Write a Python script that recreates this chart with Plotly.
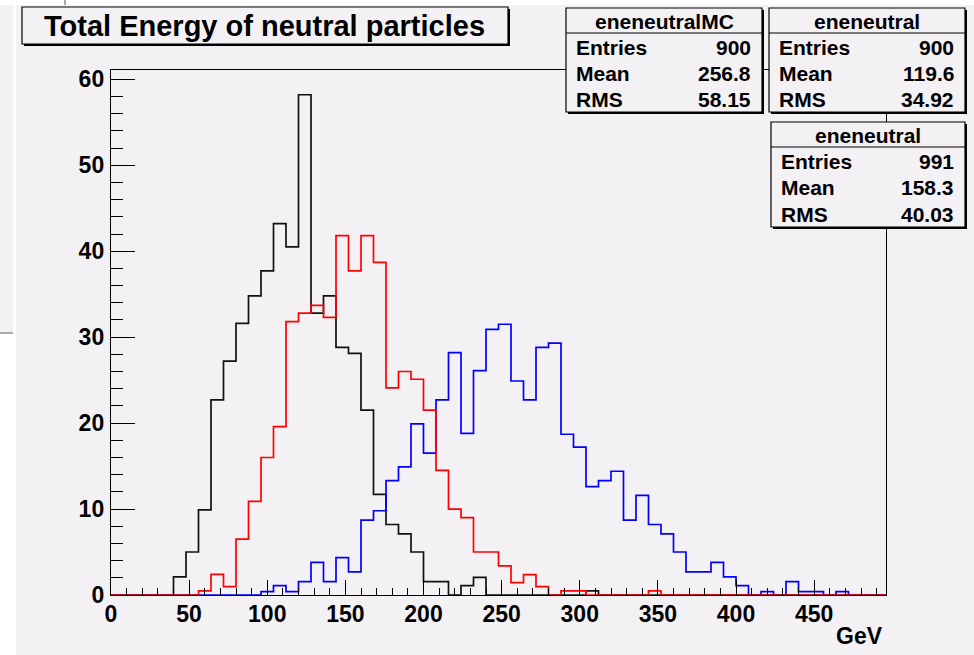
import plotly.graph_objects as go

# ---------------- data ----------------
BIN_WIDTH = 8
NBINS = 62  # 0 .. 496 GeV

# black: "eneneutral" (900 entries)
black_vals = [0, 0, 0, 0, 0, 2.1, 5.0, 9.9, 22.7, 27.2,
              31.6, 34.8, 37.7, 43.2, 40.5, 58.2, 32.8, 34.8, 28.8, 28.1,
              21.5, 11.7, 8.2, 7.1, 5.0, 1.55, 1.55, 0, 1.08, 2.06,
              0, 0, 0, 0, 0, 0, 0, 0, 0.47, 0,
              0, 0, 0, 0, 0, 0, 0, 0, 0, 0,
              0, 0, 0, 0, 0, 0, 0, 0, 0, 0,
              0, 0]

# red: "eneneutral" (991 entries)
red_vals = [0, 0, 0, 0, 0, 0, 0, 0.47, 2.4, 0.97,
            6.5, 10.9, 16.0, 19.6, 31.8, 32.8, 33.7, 32.3, 41.8, 37.7,
            41.8, 38.7, 24.1, 26.0, 25.1, 21.5, 14.5, 10.0, 9.0, 5.0,
            5.0, 3.4, 1.43, 2.36, 0.97, 0, 0.47, 0.47, 0, 0,
            0, 0, 0, 0.47, 0, 0, 0, 0, 0, 0,
            0, 0, 0, 0, 0, 0, 0, 0, 0, 0,
            0, 0]

# blue: "eneneutralMC" (900 entries)
blue_vals = [0, 0, 0, 0, 0, 0, 0, 0, 0, 0,
             0, 0, 0.39, 1.08, 0.39, 1.55, 3.8, 1.55, 4.34, 2.7,
             8.7, 9.8, 13.3, 14.9, 19.9, 16.5, 22.7, 28.2, 18.8, 26.1,
             30.9, 31.5, 24.9, 22.7, 28.8, 29.3, 18.7, 17.2, 12.6, 13.3,
             14.4, 8.7, 11.6, 8.2, 7.1, 5.0, 2.7, 2.7, 3.8, 2.1,
             1.08, 0, 0.39, 0, 1.55, 0.39, 0.39, 0, 0.39, 0,
             0, 0]

x_tickvals = [0, 50, 100, 150, 200, 250, 300, 350, 400, 450]
y_tickvals = [0, 10, 20, 30, 40, 50, 60]

title_text = "Total Energy of neutral particles"
x_title = "GeV"

stat_boxes = [
    {"name": "eneneutralMC", "entries": "900", "mean": "256.8", "rms": "58.15"},
    {"name": "eneneutral", "entries": "900", "mean": "119.6", "rms": "34.92"},
    {"name": "eneneutral", "entries": "991", "mean": "158.3", "rms": "40.03"},
]

# ---------------- layout geometry ----------------
WIDTH, HEIGHT = 974, 655
L, R, T, B = 111, 886, 70, 595
PW, PH = R - L, B - T
CANVAS = "#f4f1f4"
FONT = "Liberation Sans, Arial, Helvetica, sans-serif"


def X(px):
    return (px - L) / PW


def Y(py):
    return (B - py) / PH


edges = [i * BIN_WIDTH for i in range(NBINS + 1)]


def hist_trace(vals, color):
    return go.Scatter(
        x=edges, y=list(vals) + [vals[-1]],
        mode="lines", line=dict(color=color, width=1.7, shape="hv"),
        cliponaxis=False, showlegend=False, hoverinfo="skip",
    )


fig = go.Figure()
fig.add_trace(hist_trace(black_vals, "#111111"))
fig.add_trace(hist_trace(blue_vals, "#0000ff"))
fig.add_trace(hist_trace(red_vals, "#ff0000"))

shapes = []
annotations = []

# page-edge decorations
shapes.append(dict(type="rect", xref="paper", yref="paper", x0=X(0), x1=X(WIDTH), y0=Y(0), y1=Y(5),
                   fillcolor="#ffffff", line=dict(width=0), layer="below"))
shapes.append(dict(type="rect", xref="paper", yref="paper", x0=X(0), x1=X(16), y0=Y(333), y1=Y(HEIGHT),
                   fillcolor="#ffffff", line=dict(width=0), layer="below"))
shapes.append(dict(type="rect", xref="paper", yref="paper", x0=X(13), x1=X(16), y0=Y(5), y1=Y(333),
                   fillcolor="#ffffff", line=dict(width=0), layer="below"))
shapes.append(dict(type="line", xref="paper", yref="paper", x0=X(0), x1=X(13), y0=Y(333), y1=Y(333),
                   line=dict(color="#a8a8a8", width=2), layer="below"))
shapes.append(dict(type="line", xref="paper", yref="paper", x0=X(65), x1=X(65), y0=Y(0), y1=Y(5),
                   line=dict(color="#a8a8a8", width=2), layer="below"))


def box(x0, x1, y0, y1):
    shapes.append(dict(type="rect", xref="paper", yref="paper",
                       x0=X(x0 + 2), x1=X(x1 + 2), y0=Y(y0 + 2), y1=Y(y1 + 2),
                       fillcolor="#000000", line=dict(width=0), layer="above"))
    shapes.append(dict(type="rect", xref="paper", yref="paper",
                       x0=X(x0), x1=X(x1), y0=Y(y0), y1=Y(y1),
                       fillcolor=CANVAS, line=dict(color="#000000", width=1.2), layer="above"))


def text(s, px, py, size, anchor="center"):
    annotations.append(dict(text=s, xref="paper", yref="paper", x=X(px), y=Y(py),
                            xanchor=anchor, yanchor="middle", showarrow=False,
                            font=dict(family=FONT, size=size, color="#000000", weight="bold")))


# title box
box(22, 508, 7, 44)
text(title_text, 264, 26, 29)

# stat boxes
geoms = [
    (566, 762, 8, 112, 33),
    (769, 965, 8, 112, 33),
    (771, 965, 122, 227, 147),
]
for sb, (x0, x1, y0, y1, yl) in zip(stat_boxes, geoms):
    box(x0, x1, y0, y1)
    shapes.append(dict(type="line", xref="paper", yref="paper", x0=X(x0), x1=X(x1), y0=Y(yl), y1=Y(yl),
                       line=dict(color="#000000", width=1.2), layer="above"))
    text(sb["name"], (x0 + x1) / 2, (y0 + yl) / 2 + 1, 21)
    row_h = (y1 - yl) / 3
    for k, (lab, val) in enumerate([("Entries", sb["entries"]), ("Mean", sb["mean"]), ("RMS", sb["rms"])]):
        yy = yl + row_h * (k + 0.5) + 1
        text(lab, x0 + 8, yy, 21, "left")
        text(val, x1 - 9, yy, 21, "right")

# x-axis title
annotations.append(dict(text=x_title, xref="paper", yref="paper", x=X(885), y=Y(636),
                        xanchor="right", yanchor="middle", showarrow=False,
                        font=dict(family=FONT, size=23, color="#000000", weight="bold")))

fig.update_layout(
    width=WIDTH, height=HEIGHT,
    margin=dict(l=L, r=WIDTH - R, t=T, b=HEIGHT - B, pad=0),
    paper_bgcolor=CANVAS, plot_bgcolor=CANVAS,
    showlegend=False,
    shapes=shapes, annotations=annotations,
    xaxis=dict(
        range=[0, NBINS * BIN_WIDTH], tickmode="array", tickvals=x_tickvals,
        ticktext=[str(v) for v in x_tickvals],
        ticks="inside", ticklen=15, tickwidth=1.4, tickcolor="#000000",
        minor=dict(dtick=10, tick0=0, ticks="inside", ticklen=7, tickwidth=1.4, tickcolor="#000000"),
        showline=True, linecolor="#000000", linewidth=1.4, mirror=True,
        showgrid=False, zeroline=False, ticklabelstandoff=-2,
        tickfont=dict(family=FONT, size=23, color="#000000", weight="bold"),
    ),
    yaxis=dict(
        range=[0, 61.08], tickmode="array", tickvals=y_tickvals,
        ticktext=[str(v) for v in y_tickvals],
        ticks="inside", ticklen=24, tickwidth=1.4, tickcolor="#000000",
        minor=dict(dtick=2, tick0=0, ticks="inside", ticklen=12, tickwidth=1.4, tickcolor="#000000"),
        showline=True, linecolor="#000000", linewidth=1.4, mirror=True,
        showgrid=False, zeroline=False, ticklabelstandoff=1,
        tickfont=dict(family=FONT, size=23, color="#000000", weight="bold"),
    ),
)

fig.write_html("out.html")
